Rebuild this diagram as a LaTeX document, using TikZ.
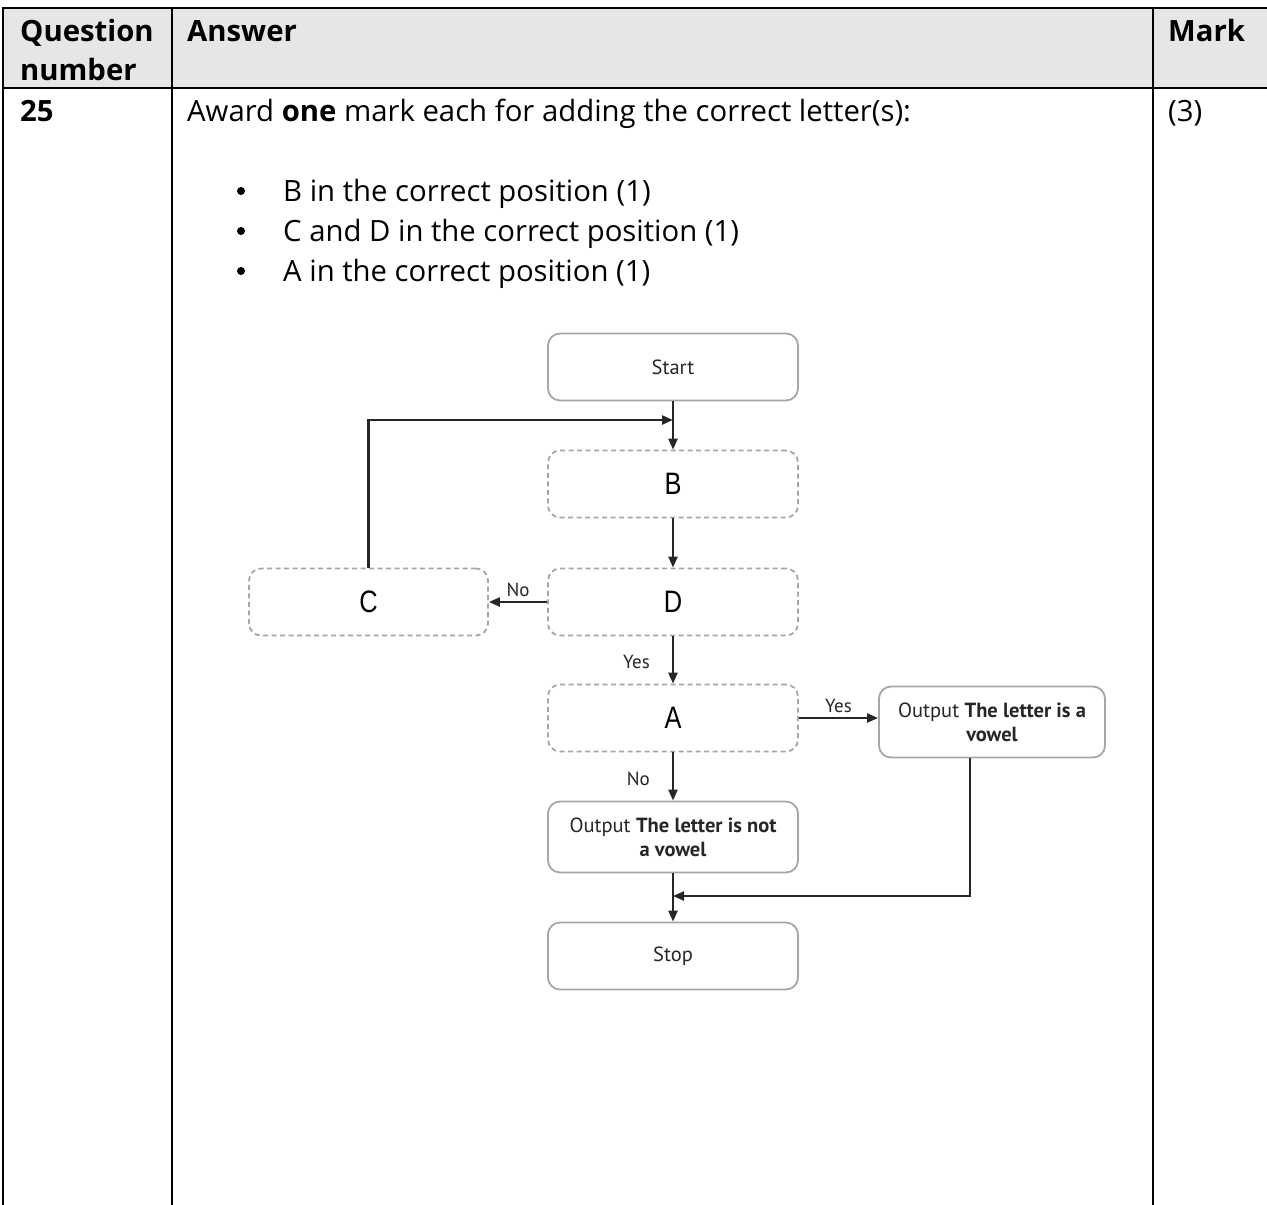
\documentclass[tikz,border=0pt]{standalone}
\usepackage{fontspec}
\usepackage{graphicx}
\setmainfont{Open Sans}
\newfontfamily\flowfont{PT Sans}
\newfontfamily\letterfont{Liberation Sans}
\usetikzlibrary{arrows.meta,calc}
\definecolor{boxgray}{HTML}{A6A6A6}
\definecolor{linec}{HTML}{262626}
\definecolor{headbg}{HTML}{E6E6E6}
\begin{document}
\begin{tikzpicture}[x=1pt,y=-1pt,
  txt/.style={anchor=base west, inner sep=0pt, font=\fontsize{29.3}{33}\selectfont},
  hd/.style={txt, font=\bfseries\fontsize{29.3}{33}\selectfont},
  box/.style={draw=boxgray, line width=1.8pt, rounded corners=12pt, minimum width=250pt, minimum height=67pt, inner sep=0pt, font=\flowfont\fontsize{20.5}{24}\selectfont, align=center, text=black!85},
  dbox/.style={box, dashed, dash pattern=on 5pt off 3.5pt, font=\letterfont\fontsize{31}{32}\selectfont, text=black},
  conn/.style={draw=linec, line width=2.3pt, -{Triangle[length=11pt,width=9pt]}},
  lbl/.style={font=\flowfont\fontsize{19}{20}\selectfont, text=black!85, inner sep=0pt},
]
\useasboundingbox (0,0) rectangle (1267,1205);
% table
\fill[headbg] (3,8) rectangle (1267,88);
\draw[line width=1.8pt] (1267,8) -- (3,8) -- (3,1205);
\draw[line width=1.8pt] (3,88) -- (1267,88);
\draw[line width=1.8pt] (172,8) -- (172,1205);
\draw[line width=1.8pt] (1153,8) -- (1153,1205);
\node[hd] (hq) at (20,41) {Question};
\node[hd] (hn) at (20,80) {number};
\node[hd] (ha) at (187,41) {Answer};
\node[hd] (hm) at (1168,41) {Mark};
\node[hd] (qn) at (20,121) {25};
\node[txt] (award) at (187,121) {Award \textbf{one} mark each for adding the correct letter(s):};
\node[txt] (mk) at (1168,121) {(3)};
\foreach \yy/\tt [count=\i] in {201/B in the correct position (1),241/C and D in the correct position (1),281/A in the correct position (1)}{
  \fill (241,\yy-10) circle (4pt);
  \node[txt] (b\i) at (283,\yy) {\tt};
}
% flowchart
\node[box] (start) at (673,367) {Start};
\node[dbox] (B) at (673,484) {\scalebox{0.82}[1]{B}};
\node[dbox] (D) at (673,602) {\scalebox{0.82}[1]{D}};
\node[dbox, minimum width=239pt] (C) at (368.5,602) {\scalebox{0.82}[1]{C}};
\node[dbox] (A) at (673,718) {\scalebox{0.82}[1]{A}};
\node[box, minimum width=226pt, minimum height=71pt] (vow) at (992,722) {Output \textbf{The letter is a}\\\textbf{vowel}};
\node[box, minimum height=71pt] (nvow) at (673,837) {Output \textbf{The letter is not}\\\textbf{a vowel}};
\node[box] (stop) at (673,956) {Stop};
\coordinate (loopj) at (673,420);
\coordinate (joinj) at (673,896);
\draw[conn] (start) -- (B);
\draw[conn] (C.north) |- (loopj);
\draw[conn] (B) -- (D);
\draw[conn] (D) -- node[lbl, above, yshift=4pt] (lno1) {No} (C);
\draw[conn] (D) -- node[lbl, left, xshift=-22pt, yshift=-2pt] (lyes1) {Yes} (A);
\draw[conn] (A.east) -- node[lbl, above, yshift=4pt] (lyes2) {Yes} (A.east -| vow.west);
\draw[conn] (A) -- node[lbl, left, xshift=-22pt, yshift=-2pt] (lno2) {No} (nvow);
\draw[conn] (nvow) -- (stop);
\draw[conn] ($(vow.south)+(-22,0)$) |- (joinj);
\end{tikzpicture}
\end{document}
